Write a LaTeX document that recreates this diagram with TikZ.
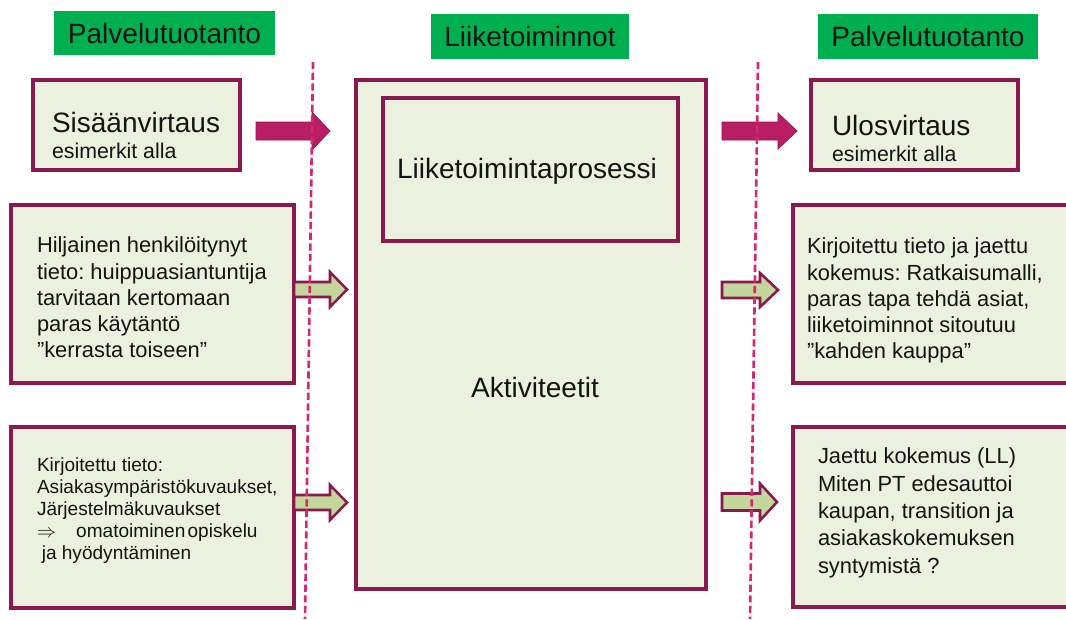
\documentclass[tikz,border=0pt]{standalone}
\usepackage{fontspec}
\setmainfont{Liberation Sans}
\usetikzlibrary{fit}
\definecolor{hdrgreen}{HTML}{00B050}
\definecolor{boxfill}{HTML}{EBF1DE}
\definecolor{frame}{HTML}{8A1A4E}
\definecolor{flowmag}{HTML}{B91E64}
\definecolor{flowgreen}{HTML}{C3D69B}
\definecolor{divider}{HTML}{D7286E}
\definecolor{ink}{HTML}{141414}
\frenchspacing
% block arrow: style, x start, x neck, x tip, y centre, body half height, head half height
\newcommand\blockarrow[7]{%
  \path[#1] (#2,#5-#6) -- (#3,#5-#6) -- (#3,#5-#7) -- (#4,#5)
    -- (#3,#5+#7) -- (#3,#5+#6) -- (#2,#5+#6) -- cycle;}
\begin{document}
\begin{tikzpicture}[x=0.75pt,y=-0.75pt,
  every node/.style={inner sep=0pt, outer sep=0pt, text=ink},
  hdr/.style={fill=hdrgreen, draw=none, font=\fontsize{21}{25}\selectfont},
  box/.style={draw=frame, line width=2.4pt, fill=boxfill},
  big/.style={font=\fontsize{21}{25}\selectfont},
  sub/.style={font=\fontsize{16}{19}\selectfont},
  body/.style={font=\fontsize{16.4}{19.7}\selectfont, align=left},
  bodyloose/.style={font=\fontsize{16.4}{20.5}\selectfont, align=left},
  small/.style={font=\fontsize{14.3}{16.5}\selectfont, align=left},
  magarrow/.style={fill=flowmag, draw=flowmag!80!black, line width=0.6pt},
  grnarrow/.style={fill=flowgreen, draw=frame, line width=1.9pt},
  divline/.style={draw=divider, line width=2pt, dash pattern=on 5.4pt off 2.6pt}
]
\useasboundingbox (0,0) rectangle (1066,619);
\clip (0,0) rectangle (1066,619);

% column headers
\node[hdr, fit={(54,11) (275,55)}] (hleft) {};
\node[big] at (hleft.center) {Palvelutuotanto};
\node[hdr, fit={(431,14) (629,59)}] (hmid) {};
\node[big] at (hmid.center) {Liiketoiminnot};
\node[hdr, fit={(818,14) (1038,59)}] (hright) {};
\node[big] at (hright.center) {Palvelutuotanto};

% inflow side
\node[box, fit={(33,80) (240,170)}] (inflow) {};
\node[big, anchor=base west] at (52,132) {Sisäänvirtaus};
\node[sub, anchor=base west] at (52,158) {esimerkit alla};

\node[box, fit={(11,205) (294,383)}] (tacit) {};
\node[body, anchor=north west] at (37,237) {Hiljainen henkilöitynyt\\tieto: huippuasiantuntija\\tarvitaan kertomaan\\paras käytäntö\\”kerrasta toiseen”};

\node[box, fit={(11,427) (294,608)}] (written) {};
\node[small, anchor=north west] at (37,458) {Kirjoitettu tieto:\\Asiakasympäristökuvaukset,\\Järjestelmäkuvaukset\\$\Rightarrow$\hspace{1.05em}omatoiminen\hspace{0.12em}opiskelu\\\hspace{0.25em}ja hyödyntäminen};

% business side
\node[box, fit={(356,80) (706,589)}] (business) {};
\node[box, fit={(383,98) (678,241)}] (process) {};
\node[big] at (527,171) {Liiketoimintaprosessi};
\node[big] at (535,387) {Aktiviteetit};

% outflow side
\node[box, fit={(811,80) (1018,170)}] (outflow) {};
\node[big, anchor=base west] at (832,135) {Ulosvirtaus};
\node[sub, anchor=base west] at (832,161) {esimerkit alla};

\node[box, fit={(793,205) (1080,383)}] (solution) {};
\node[body, anchor=north west] at (807,238) {Kirjoitettu tieto ja jaettu\\kokemus: Ratkaisumalli,\\paras tapa tehdä asiat,\\liiketoiminnot sitoutuu\\”kahden kauppa”};

\node[box, fit={(793,427) (1080,607)}] (shared) {};
\node[bodyloose, anchor=north west] at (818,448) {Jaettu kokemus (LL)\\Miten PT edesauttoi\\kaupan, transition ja\\asiakaskokemuksen\\syntymistä ?};

% flow arrows
\blockarrow{magarrow}{256}{312}{330}{131}{9}{19}
\blockarrow{magarrow}{722}{778}{797}{131}{9}{18}
\blockarrow{grnarrow}{294}{330}{347}{289.5}{7.5}{17.5}
\blockarrow{grnarrow}{294}{330}{347}{502.5}{7.5}{17.5}
\blockarrow{grnarrow}{722}{760}{778}{290}{8}{17}
\blockarrow{grnarrow}{722}{760}{777}{502}{8.5}{18.5}

% dashed boundaries between the columns
\coordinate (divLtop) at (313,62);
\coordinate (divLbot) at (305,619);
\coordinate (divRtop) at (758,62);
\coordinate (divRbot) at (750,619);
\draw[divline] (divLtop) -- (divLbot);
\draw[divline] (divRtop) -- (divRbot);
\end{tikzpicture}
\end{document}
